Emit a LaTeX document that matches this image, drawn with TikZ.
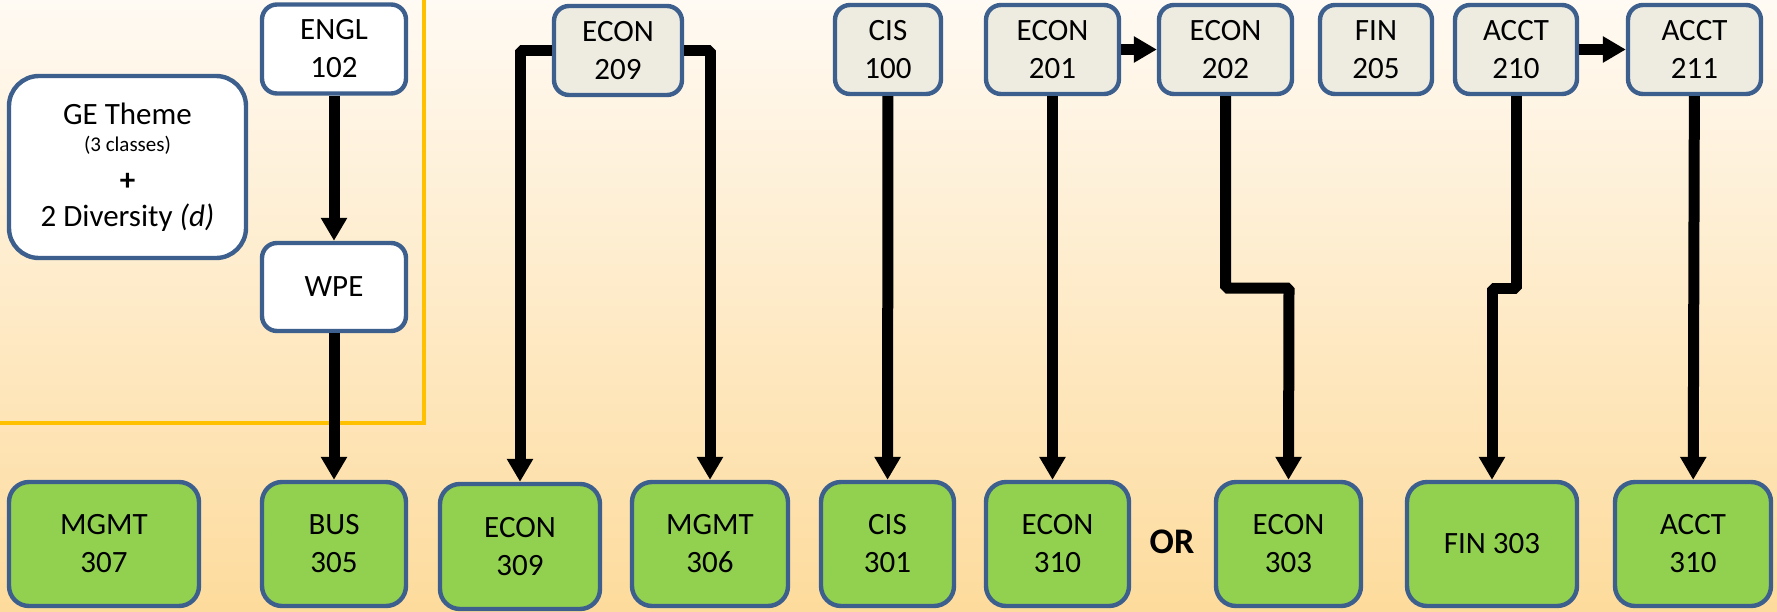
\documentclass[tikz,border=0pt]{standalone}
\usepackage{fontspec}
\setmainfont{Carlito}
\usetikzlibrary{arrows.meta}
\definecolor{boxblue}{HTML}{3C5F8D}
\definecolor{tanfill}{HTML}{EEECE1}
\definecolor{greenfill}{HTML}{92D050}
\definecolor{geline}{HTML}{FFC000}
\definecolor{bgtop}{HTML}{FFFAF3}
\definecolor{bgbot}{HTML}{FDDB9C}
\begin{document}
\begin{tikzpicture}[x=0.5pt, y=-0.5pt, line join=bevel,
main node/.style={rectangle,draw=boxblue,line width=2.2pt,rounded corners=7.5pt,align=center,inner sep=0pt,font=\fontsize{15.5}{19}\selectfont},
pre node/.style={main node,fill=tanfill,minimum height=44.5pt},
free node/.style={main node,fill=white},
req node/.style={main node,fill=greenfill,rounded corners=10pt,minimum height=62pt},
link/.style={line width=5.5pt,-{Triangle[width=12.5pt,length=11.5pt]}}]
\useasboundingbox (0,0) rectangle (1777,611);
\shade[top color=bgtop, bottom color=bgbot] (0,0) rectangle (1777,611);
% GE area
\draw[geline, line width=2.3pt, line join=miter] (424,0) -- (424,423) -- (0,423);
\begin{scope}
\node[free node, minimum width=118.5pt, minimum height=91pt, rounded corners=15pt] (ge) at (127.5,167) {GE Theme\\[-5.5pt]{\fontsize{10.5}{13}\selectfont (3 classes)}\\[0.5pt]\textbf{+}\\[-1pt]2 Diversity \textit{(d)}};
\node[free node, minimum width=72pt, minimum height=44.5pt] (engl) at (334,49) {ENGL\\102};
\node[free node, minimum width=72pt, minimum height=44pt] (wpe) at (334,287) {WPE};
\node[pre node, minimum width=64pt] (e209) at (618,50.5) {ECON\\209};
\node[pre node, minimum width=53pt] (c100) at (888,49.5) {CIS\\100};
\node[pre node, minimum width=66.5pt] (e201) at (1052.5,49.5) {ECON\\201};
\node[pre node, minimum width=66.5pt] (e202) at (1225.5,49.5) {ECON\\202};
\node[pre node, minimum width=56pt] (f205) at (1376,49.5) {FIN\\205};
\node[pre node, minimum width=61pt] (a210) at (1516,49.5) {ACCT\\210};
\node[pre node, minimum width=66.5pt] (a211) at (1694.5,49.5) {ACCT\\211};
%\node[pre node] () at (,) {};
\node[req node, minimum width=95pt] (m307) at (104,544) {MGMT\\307};
\node[req node, minimum width=72pt] (b305) at (334,544) {BUS\\305};
\node[req node, minimum width=80pt, minimum height=62.5pt] (e309) at (520,546.5) {ECON\\309};
\node[req node, minimum width=78pt] (m306) at (710,544) {MGMT\\306};
\node[req node, minimum width=66.5pt] (c301) at (887.5,544) {CIS\\301};
\node[req node, minimum width=71.5pt] (e310) at (1057.5,544) {ECON\\310};
\node[font=\fontsize{18}{21}\selectfont\bfseries] (or) at (1172,542) {OR};
\node[req node, minimum width=72.5pt] (e303) at (1288.5,544) {ECON\\303};
\node[req node, minimum width=85pt] (f303) at (1492,544) {FIN 303};
\node[req node, minimum width=78pt] (a310) at (1693,544) {ACCT\\310};
\coordinate (k202) at (1289,288);
\coordinate (k210) at (1492,288);
\end{scope}
\begin{scope}[link]
\draw (engl) edge (wpe);
\draw (wpe) edge (b305);
\draw (e209.west) -| (e309.north);
\draw (e209.east) -| (m306.north);
\draw (c100) edge (c301);
\draw (e201.south) -- (e201.south |- e310.north);
\draw (e201) edge (e202);
\draw (e202.south) |- (k202) -- (e303.north);
\draw (a210.south) |- (k210) -- (f303.north);
\draw (a210) edge (a211);
\draw (a211) edge (a310);
%\draw (v) edge (v);
\end{scope}
\end{tikzpicture}
\end{document}
